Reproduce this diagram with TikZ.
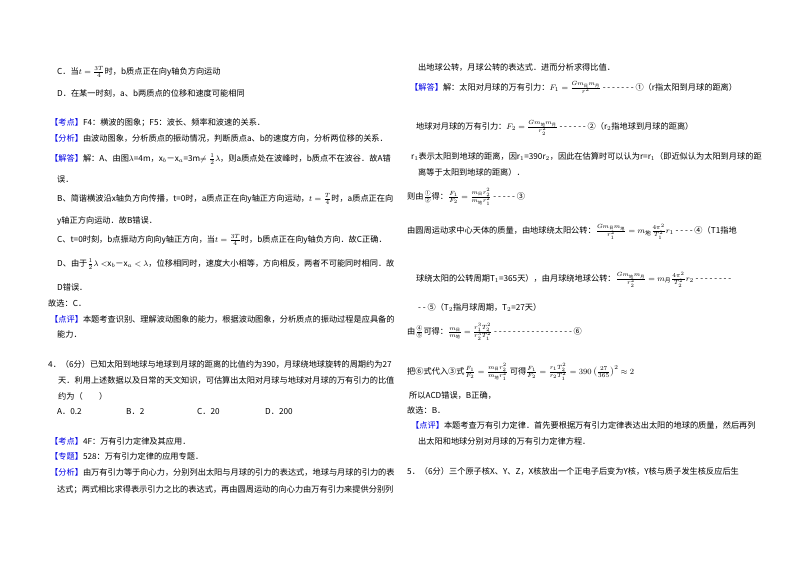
\documentclass[tikz,border=0pt]{standalone}
\usepackage{amsmath}
\usepackage{fontspec}
\setmainfont{Noto Sans CJK SC}
\newcommand{\kd}[1]{\textcolor{kblue}{【#1】}}
\newcommand{\tx}[1]{\text{#1}}
\begin{document}
\begin{tikzpicture}[x=1pt,y=-1pt,
  ln/.style={anchor=base west,inner sep=0pt,font=\fontsize{8.2}{10}\selectfont}]
\definecolor{kblue}{RGB}{0,0,230}
\useasboundingbox[fill=white] (0,0) rectangle (800,565);
% left column
\node[ln] (l1) at (57,74) {C．当$t=\frac{3T}{4}$时，b质点正在向y轴负方向运动};
\node[ln] (l2) at (57,96) {D．在某一时刻，a、b两质点的位移和速度可能相同};
\node[ln] (l3) at (50,125) {\kd{考点}F4：横波的图象；F5：波长、频率和波速的关系．};
\node[ln] (l4) at (50,141) {\kd{分析}由波动图象，分析质点的振动情况，判断质点a、b的速度方向，分析两位移的关系．};
\node[ln] (l5) at (50,161) {\kd{解答}解：A、由图$\lambda$=4m，x$_b$－x$_a$=3m$\neq\frac{1}{2}\lambda$，则a质点处在波峰时，b质点不在波谷．故A错};
\node[ln] (l6) at (57,182) {误．};
\node[ln] (l7) at (57,201) {B、简谐横波沿x轴负方向传播，t=0时，a质点正在向y轴正方向运动，$t=\frac{T}{4}$时，a质点正在向};
\node[ln] (l8) at (57,223) {y轴正方向运动．故B错误．};
\node[ln] (l9) at (57,242) {C、t=0时刻，b点振动方向向y轴正方向，当$t=\frac{3T}{4}$时，b质点正在向y轴负方向．故C正确．};
\node[ln] (l10) at (57,266) {D、由于$\frac{1}{2}\lambda<$x$_b$－x$_a<\lambda$，位移相同时，速度大小相等，方向相反，两者不可能同时相同．故};
\node[ln] (l11) at (57,290) {D错误．};
\node[ln] (l12) at (48,306) {故选：C．};
\node[ln] (l13) at (50,322) {\kd{点评}本题考查识别、理解波动图象的能力，根据波动图象，分析质点的振动过程是应具备的};
\node[ln] (l14) at (57,337) {能力．};
\node[ln] (l15) at (48,367) {4．（6分）已知太阳到地球与地球到月球的距离的比值约为390，月球绕地球旋转的周期约为27};
\node[ln] (l16) at (58,383) {天．利用上述数据以及日常的天文知识，可估算出太阳对月球与地球对月球的万有引力的比值};
\node[ln] (l17) at (58,399) {约为（\quad\quad）};
\node[ln] (a1) at (57,414) {A．0.2};
\node[ln] (a2) at (126,414) {B．2};
\node[ln] (a3) at (197,414) {C．20};
\node[ln] (a4) at (265,414) {D．200};
\node[ln] (l18) at (50,444) {\kd{考点}4F：万有引力定律及其应用．};
\node[ln] (l19) at (50,459) {\kd{专题}528：万有引力定律的应用专题．};
\node[ln] (l20) at (50,475) {\kd{分析}由万有引力等于向心力，分别列出太阳与月球的引力的表达式，地球与月球的引力的表};
\node[ln] (l21) at (57,492) {达式；两式相比求得表示引力之比的表达式，再由圆周运动的向心力由万有引力来提供分别列};
% right column
\node[ln] (r1) at (418,70) {出地球公转，月球公转的表达式．进而分析求得比值．};
\node[ln] (r2) at (410,90) {\kd{解答}解：太阳对月球的万有引力：$F_1=\frac{Gm_{\tx{日}}m_{\tx{月}}}{r^2}$ - - - - - - - ①（r指太阳到月球的距离）};
\node[ln] (r3) at (416,129) {地球对月球的万有引力：$F_2=\frac{Gm_{\tx{地}}m_{\tx{月}}}{r_2^2}$ - - - - - - ②（r$_2$指地球到月球的距离）};
\node[ln] (r4) at (411,159) {r$_1$表示太阳到地球的距离，因r$_1$=390r$_2$，因此在估算时可以认为r=r$_1$（即近似认为太阳到月球的距};
\node[ln] (r5) at (418,175) {离等于太阳到地球的距离）．};
\node[ln] (r6) at (407,199) {则由$\frac{①}{②}$得：$\frac{F_1}{F_2}=\frac{m_{\tx{日}}r_2^2}{m_{\tx{地}}r_1^2}$ - - - - - ③};
\node[ln] (r7) at (407,233) {由圆周运动求中心天体的质量，由地球绕太阳公转：$\frac{Gm_{\tx{日}}m_{\tx{地}}}{r_1^2}=m_{\tx{地}}\frac{4\pi^2}{T_1^2}r_1$ - - - - ④（T1指地};
\node[ln] (r8) at (416,281) {球绕太阳的公转周期T$_1$=365天），由月球绕地球公转：$\frac{Gm_{\tx{地}}m_{\tx{月}}}{r_2^2}=m_{\tx{月}}\frac{4\pi^2}{T_2^2}r_2$ - - - - - - - -};
\node[ln] (r9) at (418,310) {- - ⑤（T$_2$指月球周期，T$_2$=27天）};
\node[ln] (r10) at (407,334) {由$\frac{④}{⑤}$可得：$\frac{m_{\tx{日}}}{m_{\tx{地}}}=\frac{r_1^3T_2^2}{r_2^3T_1^2}$ - - - - - - - - - - - - - - - - - ⑥};
\node[ln] (r11) at (407,374) {把⑥式代入③式$\frac{F_1}{F_2}=\frac{m_{\tx{日}}r_2^2}{m_{\tx{地}}r_1^2}$ 可得$\frac{F_1}{F_2}=\frac{r_1T_2^2}{r_2T_1^2}=390\left(\frac{27}{365}\right)^2\approx2$};
\node[ln] (r12) at (409,398) {所以ACD错误，B正确，};
\node[ln] (r13) at (407,413) {故选：B．};
\node[ln] (r14) at (411,428) {\kd{点评}本题考查万有引力定律．首先要根据万有引力定律表达出太阳的地球的质量，然后再列};
\node[ln] (r15) at (418,444) {出太阳和地球分别对月球的万有引力定律方程．};
\node[ln] (r16) at (407,474) {5．（6分）三个原子核X、Y、Z，X核放出一个正电子后变为Y核，Y核与质子发生核反应后生};
\end{tikzpicture}
\end{document}
